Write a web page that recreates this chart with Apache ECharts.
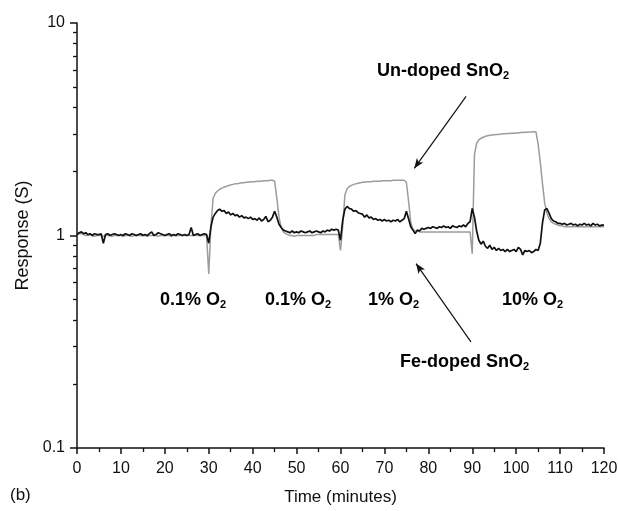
<!DOCTYPE html>
<html>
<head>
<meta charset="utf-8">
<script src="https://cdn.jsdelivr.net/npm/echarts@6/dist/echarts.min.js"></script>
<style>
  html, body { margin: 0; padding: 0; background: #fff; }
  #chart { width: 618px; height: 511px; }
</style>
</head>
<body>
<div id="chart"></div>
<script>
// sampling time in minutes, every half minute from 0 to 120
var times = Array.from({ length: 241 }, function (_, i) { return i / 2; });

// un-doped SnO2 (grey trace), one row = 10 minutes
var undoped = [
  1.01,1.02,1.02,1.01,1.00,1.00,1.01,1.00,0.99,1.00, 1.00,1.00,0.99,1.00,1.00,1.00,0.99,1.00,1.00,1.00,
  1.00,0.99,1.00,1.00,1.00,0.99,1.00,1.00,1.00,1.00, 1.00,1.00,0.99,1.00,1.00,1.00,1.00,0.99,1.00,1.00,
  1.00,1.00,1.00,0.99,1.00,1.00,1.00,1.00,1.00,1.00, 1.00,1.00,1.00,1.00,1.00,1.00,1.00,1.00,1.00,1.00,
  0.66,1.12,1.50,1.58,1.62,1.65,1.67,1.69,1.70,1.72, 1.73,1.74,1.75,1.75,1.76,1.77,1.77,1.78,1.78,1.79,
  1.79,1.79,1.80,1.80,1.80,1.81,1.81,1.81,1.82,1.82, 1.80,1.50,1.22,1.09,1.04,1.02,1.01,1.00,1.00,0.99,
  1.00,1.00,1.00,1.00,1.00,1.00,1.00,1.00,1.00,1.01, 1.01,1.01,1.01,1.01,1.01,1.01,1.01,1.01,1.01,1.01,
  0.85,1.10,1.55,1.66,1.70,1.72,1.74,1.75,1.76,1.77, 1.78,1.78,1.79,1.79,1.79,1.80,1.80,1.80,1.80,1.81,
  1.81,1.81,1.81,1.81,1.82,1.82,1.82,1.82,1.82,1.82, 1.78,1.45,1.15,1.07,1.05,1.05,1.04,1.04,1.04,1.04,
  1.04,1.04,1.04,1.04,1.04,1.04,1.04,1.04,1.04,1.04, 1.04,1.04,1.04,1.04,1.04,1.04,1.04,1.04,1.04,1.04,
  0.82,2.40,2.72,2.82,2.87,2.90,2.93,2.95,2.96,2.97, 2.98,2.99,2.99,3.00,3.01,3.01,3.02,3.02,3.03,3.03,
  3.04,3.04,3.05,3.05,3.06,3.06,3.07,3.07,3.08,3.08, 2.70,2.20,1.75,1.42,1.27,1.20,1.16,1.14,1.13,1.12,
  1.11,1.11,1.10,1.10,1.10,1.10,1.10,1.10,1.10,1.10, 1.10,1.10,1.10,1.10,1.10,1.10,1.10,1.10,1.10,1.10,
  1.10
];

// Fe-doped SnO2 (black trace)
var fedoped = [
  1.01,1.03,1.04,1.02,1.03,1.01,1.02,1.00,1.02,1.01, 1.01,1.02,0.92,1.01,1.02,1.00,1.01,1.02,1.01,1.00,
  1.01,1.00,1.02,1.01,1.00,1.02,1.01,1.00,1.01,1.02, 1.00,1.01,1.00,1.02,1.04,1.00,1.01,1.03,1.02,1.01,
  1.00,1.01,1.02,1.00,1.01,1.00,1.02,1.01,1.00,1.01, 1.00,1.01,1.09,1.00,1.01,1.02,1.00,1.01,1.02,1.01,
  0.92,1.10,1.22,1.27,1.31,1.33,1.30,1.31,1.27,1.29, 1.25,1.27,1.24,1.25,1.22,1.24,1.21,1.22,1.20,1.22,
  1.19,1.20,1.18,1.21,1.17,1.19,1.23,1.16,1.18,1.22, 1.30,1.22,1.13,1.09,1.06,1.05,1.04,1.03,1.05,1.03,
  1.04,1.03,1.05,1.04,1.03,1.04,1.05,1.03,1.04,1.05, 1.04,1.03,1.05,1.04,1.06,1.05,1.07,1.06,1.07,1.06,
  0.95,1.18,1.33,1.37,1.34,1.33,1.30,1.31,1.28,1.27, 1.26,1.22,1.25,1.21,1.22,1.19,1.20,1.18,1.19,1.17,
  1.19,1.17,1.18,1.16,1.18,1.17,1.19,1.16,1.18,1.20, 1.30,1.20,1.10,1.06,1.02,1.06,1.05,1.08,1.07,1.08,
  1.09,1.08,1.10,1.09,1.08,1.10,1.09,1.11,1.09,1.10, 1.08,1.11,1.10,1.09,1.11,1.10,1.12,1.10,1.14,1.16,
  1.34,1.22,1.05,0.95,0.91,0.94,0.89,0.87,0.90,0.86, 0.88,0.85,0.87,0.85,0.86,0.84,0.86,0.84,0.85,0.86,
  0.84,0.88,0.86,0.81,0.85,0.84,0.85,0.83,0.84,0.86, 0.85,0.92,1.15,1.32,1.34,1.27,1.20,1.17,1.16,1.14,
  1.14,1.13,1.14,1.12,1.13,1.14,1.12,1.13,1.11,1.13, 1.12,1.14,1.12,1.13,1.11,1.14,1.12,1.13,1.11,1.12,
  1.12
];

// log-axis minor ticks (2..9 of each decade)
var yMinorTicks = [0.2,0.3,0.4,0.5,0.6,0.7,0.8,0.9, 2,3,4,5,6,7,8,9];

// arrows, in data coordinates [time, response]
var arrowUndoped = [[88.6, 4.52], [76.8, 2.07]];
var arrowFedoped = [[89.7, 0.316], [77.2, 0.738]];

function pairs(v) {
  return v.map(function (y, i) { return [times[i], y]; });
}

var font = "'Liberation Sans', Arial, sans-serif";
var narrow = "'Liberation Sans Narrow', 'Liberation Sans', Arial, sans-serif";

var subRich = {
  a: { fontFamily: font, fontWeight: 'bold', fontSize: 18, lineHeight: 21, color: '#111' },
  s: { fontFamily: font, fontWeight: 'bold', fontSize: 11, lineHeight: 11, color: '#111', verticalAlign: 'bottom' }
};

function note(x, y, main) {
  return {
    type: 'text', left: x, top: y,
    style: { text: '{a|' + main + '}{s|2}', rich: subRich }
  };
}

var mychart = echarts.init(document.getElementById('chart'));

var option = {
  animation: false,
  backgroundColor: '#fff',
  grid: { left: 77, right: 14, top: 23, bottom: 63, containLabel: false, outerBoundsMode: 'none' },
  xAxis: {
    type: 'value', min: 0, max: 120, interval: 10,
    name: 'Time (minutes)', nameLocation: 'middle', nameGap: 41,
    nameTextStyle: { fontFamily: font, fontSize: 17, color: '#111' },
    axisLine: { onZero: false, lineStyle: { color: '#111', width: 1.5 } },
    axisTick: { length: 6, lineStyle: { color: '#111', width: 1.5 } },
    minorTick: { show: true, splitNumber: 2, length: 4, lineStyle: { color: '#111', width: 1.3 } },
    axisLabel: { fontFamily: narrow, fontSize: 16, color: '#111', margin: 13 },
    splitLine: { show: false }
  },
  yAxis: [
    {
      type: 'log', logBase: 10, min: 0.1, max: 10, position: 'left',
      name: 'Response (S)', nameLocation: 'middle', nameGap: 45,
      nameTextStyle: { fontFamily: font, fontSize: 18, color: '#111' },
      axisLine: { lineStyle: { color: '#111', width: 1.5 } },
      axisTick: { length: 7, lineStyle: { color: '#111', width: 1.5 } },
      axisLabel: { fontFamily: narrow, fontSize: 16, color: '#111', margin: 12 },
      splitLine: { show: false }
    },
    {
      // twin axis in decades, only used to draw the 2..9 minor ticks of the log axis
      type: 'value', min: -1, max: 1, interval: 1, position: 'left', offset: 0,
      axisLine: { show: false, onZero: false },
      axisLabel: { show: false },
      splitLine: { show: false },
      axisTick: {
        show: true, length: 4,
        customValues: yMinorTicks.map(function (v) { return Math.log10(v); }),
        lineStyle: { color: '#111', width: 1.3 }
      }
    }
  ],
  series: [
    {
      name: 'Un-doped SnO2', type: 'line', data: pairs(undoped),
      showSymbol: false, lineStyle: { color: '#9c9c9c', width: 1.5 }, z: 2
    },
    {
      name: 'Fe-doped SnO2', type: 'line', data: pairs(fedoped),
      showSymbol: false, lineStyle: { color: '#111', width: 1.7 }, z: 3,
      markLine: {
        silent: true, symbol: ['none', 'arrow'], symbolSize: [6, 10],
        label: { show: false },
        lineStyle: { color: '#111', width: 1.2, type: 'solid' },
        data: [
          [{ coord: arrowUndoped[0] }, { coord: arrowUndoped[1] }],
          [{ coord: arrowFedoped[0] }, { coord: arrowFedoped[1] }]
        ]
      }
    }
  ],
  graphic: [
    note(377, 62, 'Un-doped SnO'),
    note(400, 353, 'Fe-doped SnO'),
    note(160, 291, '0.1% O'),
    note(265, 291, '0.1% O'),
    note(368, 291, '1% O'),
    note(502, 291, '10% O'),
    { type: 'text', left: 10, top: 487,
      style: { text: '(b)', fontFamily: font, fontSize: 17, fill: '#111' } }
  ]
};

mychart.setOption(option);
</script>
</body>
</html>
